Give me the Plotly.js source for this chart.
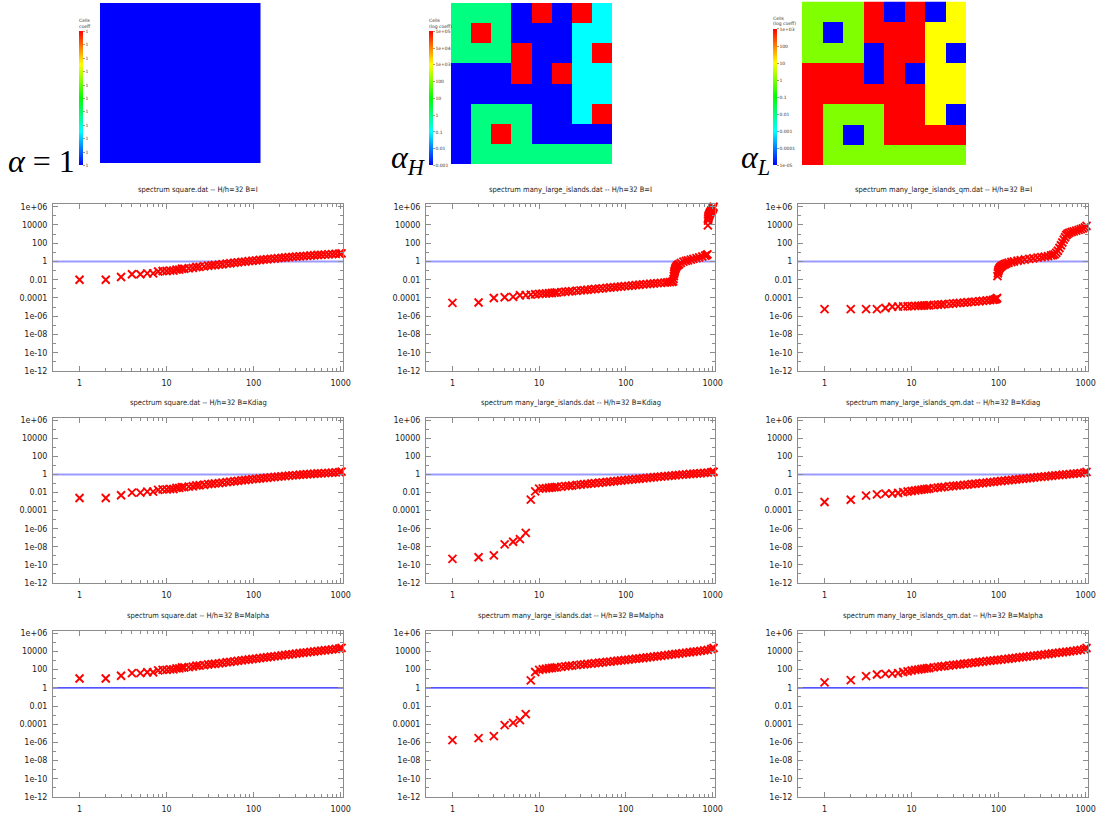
<!DOCTYPE html>
<html>
<head>
<meta charset="utf-8">
<script src="https://cdn.plot.ly/plotly-3.0.1.min.js"></script>
<style>html,body{margin:0;padding:0;background:#fff;}#chart{width:1100px;height:816px;}</style>
</head>
<body>
<div id="chart"></div>
<script>
// ---------------- data ----------------
const FILES = ["square.dat", "many_large_islands.dat", "many_large_islands_qm.dat"];
const BMATS = ["I", "Kdiag", "Malpha"];

// coefficient fields (8x8 coarse cells, top row first)
const ALPHA_1 = [[1]];
const ALPHA_H = [
  [1, 1, 1, 0.001, 1e5, 0.001, 1e5, 0.1],
  [1, 1e5, 1, 0.001, 0.001, 0.001, 0.1, 0.1],
  [1, 1, 1, 1e5, 0.001, 0.001, 0.1, 1e5],
  [0.001, 0.001, 0.001, 1e5, 0.001, 1e5, 0.1, 0.1],
  [0.001, 0.001, 0.001, 0.001, 0.001, 0.001, 0.1, 0.1],
  [0.001, 1, 1, 1, 0.001, 0.001, 0.1, 1e5],
  [0.001, 1, 1e5, 1, 0.001, 0.001, 0.001, 0.001],
  [0.001, 1, 1, 1, 1, 1, 1, 1]
];
const ALPHA_L = [
  [1, 1, 1, 1e3, 1e-5, 1e3, 1e-5, 10],
  [1, 1e-5, 1, 1e3, 1e3, 1e3, 10, 10],
  [1, 1, 1, 1e-5, 1e3, 1e3, 10, 1e-5],
  [1e3, 1e3, 1e3, 1e-5, 1e3, 1e-5, 10, 10],
  [1e3, 1e3, 1e3, 1e3, 1e3, 1e3, 10, 10],
  [1e3, 1, 1, 1, 1e3, 1e3, 10, 1e-5],
  [1e3, 1, 1e-5, 1, 1e3, 1e3, 1e3, 1e3],
  [1e3, 1, 1, 1, 1, 1, 1, 1]
];
const CB1_TEXT = ["1","1","1","1","1","1","1","1","1","1","1"];
const CB_H_TEXT = ["0.001","0.01","0.1","1","10","100","1e+03","1e+04","1e+05"];
const CB_L_TEXT = ["1e-05","0.0001","0.001","0.01","0.1","1","10","100","1e+03"];

// eigenvalue index (shared sampling for smooth spectra)
const X_SMOOTH = [1,2,3,4,5,6,7,8,9,10,11,12,13,14,15,16,18,20,22,24,27,30,33,36,40,44,49,54,60,66,73,80,88,97,107,118,130,143,158,174,191,210,231,254,280,308,339,373,410,451,496,546,600,660,726,799,879,967,1024];

const Y_SQ_I = [0.01,0.01,0.02,0.04,0.04,0.05,0.05,0.08,0.09,0.09,0.1,0.1,0.13,0.13,0.16,0.16,0.18,0.2,0.25,0.26,0.29,0.34,0.37,0.41,0.45,0.5,0.58,0.64,0.72,0.8,0.89,0.98,1.08,1.2,1.32,1.45,1.6,1.75,1.92,2.1,2.3,2.5,2.72,2.95,3.2,3.45,3.7,3.95,4.2,4.5,4.8,5.1,5.4,5.7,6.0,6.4,6.8,7.3,7.8];
const Y_SQ_KD = [0.0025,0.0025,0.005,0.01,0.01,0.0125,0.0125,0.02,0.0225,0.0225,0.025,0.025,0.0325,0.0325,0.04,0.04,0.045,0.05,0.0625,0.065,0.0725,0.085,0.0925,0.1025,0.1125,0.125,0.145,0.16,0.18,0.2,0.2225,0.245,0.27,0.3,0.33,0.3625,0.4,0.4375,0.48,0.525,0.575,0.625,0.68,0.7375,0.8,0.8625,0.925,0.9875,1.05,1.125,1.2,1.275,1.35,1.425,1.5,1.6,1.7,1.85,2.1];
const Y_SQ_MA = [10.5,10.5,21,42,42,52,52,84,95,95,105,105,137,137,170,170,190,212,265,276,310,365,400,445,495,555,650,725,820,920,1040,1160,1300,1460,1640,1840,2060,2300,2580,2900,3250,3650,4100,4600,5150,5750,6450,7200,8000,8900,9900,11000,12200,13500,15000,16700,18600,21000,25000];

const X_IS_I = [1,2,3,4,5,6,7,8,9,10,11,12,13,14,15,16,18,20,22,24,27,30,33,36,40,44,49,54,60,66,73,80,88,97,107,118,130,143,158,174,191,210,231,254,280,300,320,340,350,354,357,360,363,366,370,375,380,390,400,410,430,460,490,520,560,600,650,700,760,820,850,870,880,885,890,895,900,905,910,920,930,940,950,960,970,980,990,1000,1010,1024];
const Y_IS_I = [2.9e-5,3.2e-5,1e-4,1.2e-4,1.3e-4,2e-4,2.1e-4,2.3e-4,2.6e-4,2.8e-4,3e-4,3.1e-4,3.4e-4,3.5e-4,3.8e-4,4e-4,4.4e-4,4.8e-4,5.3e-4,5.7e-4,6.2e-4,6.8e-4,7.4e-4,8e-4,8.8e-4,9.6e-4,1.05e-3,1.15e-3,1.27e-3,1.4e-3,1.52e-3,1.66e-3,1.8e-3,1.97e-3,2.15e-3,2.35e-3,2.56e-3,2.8e-3,3.05e-3,3.3e-3,3.6e-3,3.9e-3,4.2e-3,4.5e-3,4.9e-3,5.2e-3,5.5e-3,5.9e-3,6.5e-3,0.012,0.025,0.045,0.07,0.1,0.14,0.2,0.26,0.35,0.42,0.5,0.7,0.95,1.15,1.35,1.6,1.9,2.3,2.8,3.5,4.4,5,6,9000,3e4,5e4,7e4,9e4,1.1e5,1.3e5,1.6e5,2e5,2.4e5,2.8e5,3.3e5,3.8e5,4.4e5,5e5,6e5,7.5e5,1e6];
const Y_IS_KD = [4.6e-10,7e-10,1.15e-9,1.9e-8,3.6e-8,7e-8,3.5e-7,1.65e-3,0.0135,0.027,0.029,0.031,0.034,0.036,0.039,0.041,0.046,0.051,0.056,0.061,0.069,0.076,0.084,0.091,0.1,0.11,0.122,0.134,0.148,0.162,0.178,0.195,0.214,0.235,0.26,0.285,0.31,0.34,0.375,0.41,0.45,0.49,0.535,0.585,0.64,0.7,0.76,0.82,0.89,0.96,1.04,1.12,1.2,1.29,1.38,1.48,1.6,1.75,2.0];
const Y_IS_MA = [1.8e-6,3e-6,5e-6,8e-5,1.4e-4,2.8e-4,1.3e-3,6.5,55,95,110,125,140,150,165,175,200,230,255,280,315,350,385,420,465,510,570,630,700,770,850,940,1040,1150,1270,1400,1550,1720,1910,2130,2370,2650,2950,3300,3700,4150,4650,5200,5800,6500,7300,8200,9200,10300,11600,13100,15000,18500,24000];

const X_QM_I = [1,2,3,4,5,6,7,8,9,10,11,12,13,14,15,16,18,20,22,24,27,30,33,36,40,44,49,54,60,66,73,80,86,90,93,95,96,97,98,99,100,102,104,107,110,114,118,123,130,140,150,165,180,200,225,250,280,310,340,370,400,420,440,460,480,500,520,540,560,580,600,620,650,690,730,780,830,880,930,980,1024];
const Y_QM_I = [6e-6,6e-6,6e-6,6e-6,8e-6,1.1e-5,1.15e-5,1.2e-5,1.25e-5,1.3e-5,1.35e-5,1.4e-5,1.45e-5,1.5e-5,1.55e-5,1.6e-5,1.7e-5,1.8e-5,1.95e-5,2.1e-5,2.3e-5,2.5e-5,2.7e-5,2.9e-5,3.1e-5,3.4e-5,3.7e-5,4e-5,4.4e-5,4.8e-5,5.3e-5,5.8e-5,6.3e-5,6.8e-5,7.5e-5,8.5e-5,1e-4,0.025,0.05,0.08,0.12,0.17,0.22,0.28,0.34,0.42,0.5,0.6,0.72,0.88,1.0,1.2,1.4,1.65,1.95,2.25,2.6,3.0,3.4,3.9,4.6,5.2,6,9,15,30,60,120,250,450,800,1100,1400,1700,2000,2400,2900,3500,4300,5500,8000];
const Y_QM_KD = [9e-4,1.6e-3,4.5e-3,6.3e-3,7.5e-3,7.8e-3,9e-3,0.011,0.013,0.015,0.017,0.019,0.021,0.023,0.025,0.027,0.031,0.035,0.039,0.043,0.048,0.053,0.058,0.063,0.07,0.077,0.085,0.094,0.104,0.115,0.127,0.14,0.155,0.17,0.19,0.21,0.23,0.255,0.28,0.31,0.34,0.37,0.41,0.45,0.5,0.55,0.6,0.66,0.72,0.79,0.86,0.94,1.02,1.1,1.2,1.3,1.42,1.6,1.9];
const Y_QM_MA = [4,7,19,29,34,37,41,55,65,80,92,104,116,128,140,150,175,200,225,250,285,320,355,390,440,490,550,610,690,760,850,940,1040,1150,1280,1420,1580,1760,1960,2180,2430,2700,3000,3350,3750,4200,4700,5250,5850,6550,7300,8200,9200,10300,11600,13000,14800,18000,24000];

const X_TICK_VALS = [1, 10, 100, 1000];
const X_TICK_TEXT = ["1", "10", "100", "1000"];
const Y_TICK_VALS = [1e6, 1e4, 100, 1, 0.01, 1e-4, 1e-6, 1e-8, 1e-10, 1e-12];
const Y_TICK_TEXT = ["1e+06", "10000", "100", "1", "0.01", "0.0001", "1e-06", "1e-08", "1e-10", "1e-12"];

// ---------------- layout ----------------
const W = 1100, H = 816;
const px = v => v / W;
const py = v => 1 - v / H;

const COLS = [[53, 343], [426, 715], [798, 1088]];
const ROWS = [[204, 371], [417.5, 583], [630.5, 797]];

const SPECTRA = [
  [[X_SMOOTH, Y_SQ_I], [X_IS_I, Y_IS_I], [X_QM_I, Y_QM_I]],
  [[X_SMOOTH, Y_SQ_KD], [X_SMOOTH, Y_IS_KD], [X_SMOOTH, Y_QM_KD]],
  [[X_SMOOTH, Y_SQ_MA], [X_SMOOTH, Y_IS_MA], [X_SMOOTH, Y_QM_MA]]
];

const COLORSCALE = [[0, '#0000ff'], [0.25, '#00ffff'], [0.5, '#00ff00'], [0.75, '#ffff00'], [1, '#ff0000']];
const FONT = 'DejaVu Sans';
const TITLE_FONT = 'DejaVu Sans Condensed, Liberation Sans, DejaVu Sans';
const AXC = '#8c8c8c';

const data = [];
const layout = {
  width: W, height: H,
  margin: {l: 0, r: 0, t: 0, b: 0, pad: 0},
  paper_bgcolor: '#fff', plot_bgcolor: '#fff',
  showlegend: false,
  shapes: [], annotations: []
};

// heatmaps
const HM = [
  {z: ALPHA_1, x: [100, 260.5], y: [3, 163], cbx: 79, cby: [15.5, 165.5], zmin: 1, zmax: 2, text: CB1_TEXT, title: 'Cells<br>coeff', log: false},
  {z: ALPHA_H, x: [451, 612], y: [3, 164], cbx: 429, cby: [15.5, 165.5], zmin: -3, zmax: 5, text: CB_H_TEXT, title: 'Cells<br>(log coeff)', log: true},
  {z: ALPHA_L, x: [802, 966], y: [1.5, 165], cbx: 773, cby: [13.3, 165], zmin: -5, zmax: 3, text: CB_L_TEXT, title: 'Cells<br>(log coeff)', log: true}
];
HM.forEach((h, i) => {
  const n = i + 1;
  const xa = n === 1 ? 'x' : 'x' + n, ya = n === 1 ? 'y' : 'y' + n;
  const zz = h.log ? h.z.map(r => r.map(v => Math.log10(v))) : h.z;
  const nt = h.text.length;
  const tv = h.text.map((t, k) => h.zmin + (h.zmax - h.zmin) * k / (nt - 1));
  data.push({
    type: 'heatmap', z: zz, xaxis: xa, yaxis: ya,
    colorscale: COLORSCALE, zmin: h.zmin, zmax: h.zmax, zsmooth: false,
    hoverinfo: 'skip',
    colorbar: {
      x: px(h.cbx), xanchor: 'left', xpad: 0,
      y: py((h.cby[0] + h.cby[1]) / 2), yanchor: 'middle', ypad: 0,
      len: h.cby[1] - h.cby[0], lenmode: 'pixels',
      thickness: 4, thicknessmode: 'pixels', outlinewidth: 0,
      ticks: 'outside', ticklen: 2, tickwidth: 0.6, tickcolor: '#555',
      tickmode: 'array', tickvals: tv, ticktext: h.text,
      tickfont: {family: FONT, size: 4.5, color: '#333'},
      title: {text: h.title, side: 'top', font: {family: FONT, size: 4.5, color: '#333'}}
    }
  });
  layout['xaxis' + (n === 1 ? '' : n)] = {domain: [px(h.x[0]), px(h.x[1])], anchor: ya, visible: false, fixedrange: true};
  layout['yaxis' + (n === 1 ? '' : n)] = {domain: [py(h.y[1]), py(h.y[0])], anchor: xa, visible: false, autorange: 'reversed', fixedrange: true};
});

// minor tick positions
const MINOR_X = [];
for (let d = 0; d < 4; d++) for (let m = 2; m <= 9; m++) MINOR_X.push(m * Math.pow(10, d));
const MINOR_Y = [];
for (let e = -11; e <= 5; e += 2) MINOR_Y.push(Math.pow(10, e));

// spectra
let n = 4;
for (let r = 0; r < 3; r++) {
  for (let c = 0; c < 3; c++) {
    const xa = 'x' + n, ya = 'y' + n;
    const [xs, ys] = SPECTRA[r][c];
    data.push({
      type: 'scatter', mode: 'markers', x: xs, y: ys, xaxis: xa, yaxis: ya,
      cliponaxis: false, hoverinfo: 'skip',
      marker: {symbol: 'x-thin', size: 8, color: '#ff0000', line: {color: '#ff0000', width: 1.9}}
    });
    layout['xaxis' + n] = {
      type: 'log', domain: [px(COLS[c][0]), px(COLS[c][1])], anchor: ya,
      range: [-0.305, 3.027], showline: true, linecolor: AXC, linewidth: 1, mirror: 'allticks',
      ticks: 'inside', ticklen: 5, tickwidth: 1, tickcolor: AXC,
      tickmode: 'array', tickvals: X_TICK_VALS, ticktext: X_TICK_TEXT,
      minor: {tickmode: 'array', tickvals: MINOR_X, ticks: 'inside', ticklen: 3, tickwidth: 1, tickcolor: AXC, showgrid: false},
      showgrid: false, zeroline: false, ticklabelstandoff: 4,
      tickfont: {family: FONT, size: 8, color: '#222'}, fixedrange: true
    };
    layout['yaxis' + n] = {
      type: 'log', domain: [py(ROWS[r][1]), py(ROWS[r][0])], anchor: xa,
      range: [-12, 6.3], showline: true, linecolor: AXC, linewidth: 1, mirror: 'allticks',
      ticks: 'inside', ticklen: 5, tickwidth: 1, tickcolor: AXC,
      tickmode: 'array', tickvals: Y_TICK_VALS, ticktext: Y_TICK_TEXT,
      minor: {tickmode: 'array', tickvals: MINOR_Y, ticks: 'inside', ticklen: 3, tickwidth: 1, tickcolor: AXC, showgrid: false},
      showgrid: false, zeroline: false, ticklabelstandoff: 3,
      tickfont: {family: FONT, size: 8, color: '#222'}, fixedrange: true
    };
    layout.shapes.push({
      type: 'line', xref: xa + ' domain', yref: ya, x0: 0, x1: 1, y0: 1, y1: 1, layer: 'below',
      line: r < 2 ? {color: '#9b9bff', width: 2} : {color: '#1a1aff', width: 1.2}
    });
    layout.annotations.push({
      xref: 'paper', yref: 'paper', x: px((COLS[c][0] + COLS[c][1]) / 2), y: py(ROWS[r][0] - 15),
      xanchor: 'center', yanchor: 'middle', showarrow: false,
      text: 'spectrum ' + FILES[c] + ' -- H/h=32 B=' + BMATS[r],
      font: {family: TITLE_FONT, size: 7.5, color: '#222'}
    });
    n++;
  }
}

// alpha labels
const ALPHA_LABELS = ['<i>α</i> = 1', '<i>α</i><sub><i>H</i></sub>', '<i>α</i><sub><i>L</i></sub>'];
const ALPHA_POS = [[6, 161], [389, 160], [739, 160]];
ALPHA_LABELS.forEach((t, i) => {
  layout.annotations.push({
    xref: 'paper', yref: 'paper', x: px(ALPHA_POS[i][0]), y: py(ALPHA_POS[i][1]),
    xanchor: 'left', yanchor: 'middle', showarrow: false, text: t,
    font: {family: 'Liberation Serif', size: 32, color: '#000'}
  });
});

Plotly.newPlot('chart', data, layout, {staticPlot: true, displayModeBar: false});
</script>
</body>
</html>
